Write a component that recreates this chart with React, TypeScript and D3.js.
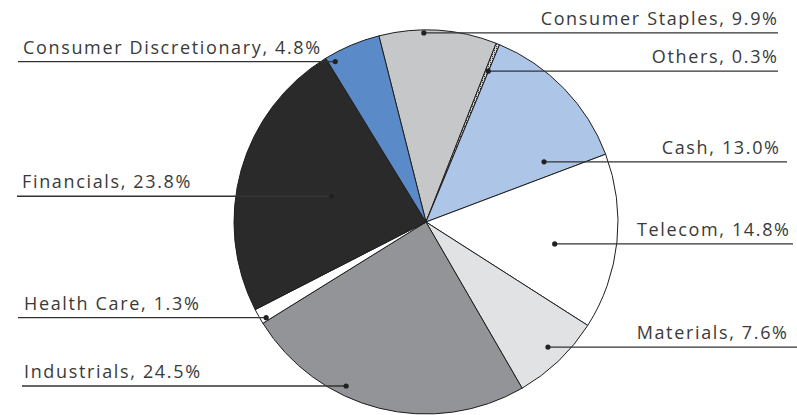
import React from 'react';
import { pie, arc, PieArcDatum } from 'd3';

// sector weights, clockwise from the top
const sectors = ['Consumer Staples', 'Others', 'Cash', 'Telecom', 'Materials', 'Industrials', 'Health Care', 'Financials', 'Consumer Discretionary'];
const weights = [9.9, 0.3, 13.0, 14.8, 7.6, 24.5, 1.3, 23.8, 4.8];
const labels = ['Consumer Staples, 9.9%', 'Others, 0.3%', 'Cash, 13.0%', 'Telecom, 14.8%', 'Materials, 7.6%', 'Industrials, 24.5%', 'Health Care, 1.3%', 'Financials, 23.8%', 'Consumer Discretionary, 4.8%'];
const fills = ['#c6c7c9', 'url(#chk)', '#adc5e6', '#ffffff', '#e1e2e4', '#939497', '#ffffff', '#2b2a2b', '#5a8ac8'];
const sides = ['right', 'right', 'right', 'right', 'right', 'left', 'left', 'left', 'left'];
// where the leader dot sits inside a slice: [fraction of the slice angle, fraction of the radius]
const dotPos: [number, number][] = [[0.38, 0.985], [0.9, 0.85], [0.865, 0.69], [0.57, 0.68], [0.48, 0.91], [0.635, 0.95], [0.2, 0.97], [0.495, 0.51], [0.115, 0.96]];
// outer end of each leader line and the label edge
const lineEnd = [778, 778, 787, 793, 797, 22, 18, 17, 18];
const textEdge = [777, 777, 779, 789, 787, 24, 24, 22, 23];

const W = 797, H = 415;
const cx = 426, cy = 222, R = 192;
const startDeg = -14.2;
const spacing = 1.65;

export default function App() {
  const toRad = (d: number) => (d * Math.PI) / 180;
  const arcs = pie<number>().sort(null).value(d => d)
    .startAngle(toRad(startDeg)).endAngle(toRad(startDeg + 360))(weights);
  const arcGen = arc<PieArcDatum<number>>().innerRadius(0).outerRadius(R);

  return (
    <svg width={W} height={H} style={{ position: 'absolute', left: 0, top: 0 }}>
      <defs>
        <pattern id="chk" width="2" height="2" patternUnits="userSpaceOnUse">
          <rect width="2" height="2" fill="#d8d8d8" />
          <rect width="1" height="1" fill="#333" />
        </pattern>
      </defs>
      <g transform={`translate(${cx},${cy})`}>
        {arcs.map((a, i) => (
          <path key={sectors[i]} d={arcGen(a) || ''} fill={fills[i]} stroke="#1e1e1e" strokeWidth={1} />
        ))}
      </g>
      {arcs.map((a, i) => {
        const [t, rf] = dotPos[i];
        const ang = a.startAngle + (a.endAngle - a.startAngle) * t;
        const dx = cx + Math.sin(ang) * R * rf;
        const dy = cy - Math.cos(ang) * R * rf;
        const right = sides[i] === 'right';
        return (
          <g key={'l' + i}>
            <line x1={dx} y1={dy} x2={lineEnd[i]} y2={dy} stroke="#333" strokeWidth={1.3} />
            <circle cx={dx} cy={dy} r={2.6} fill="#222" />
            <text x={right ? textEdge[i] + spacing : textEdge[i]} y={dy - 8} textAnchor={right ? 'end' : 'start'}
              fontFamily="'Open Sans', sans-serif" fontSize={18} letterSpacing={spacing} fill="#3a3a3a">{labels[i]}</text>
          </g>
        );
      })}
    </svg>
  );
}
